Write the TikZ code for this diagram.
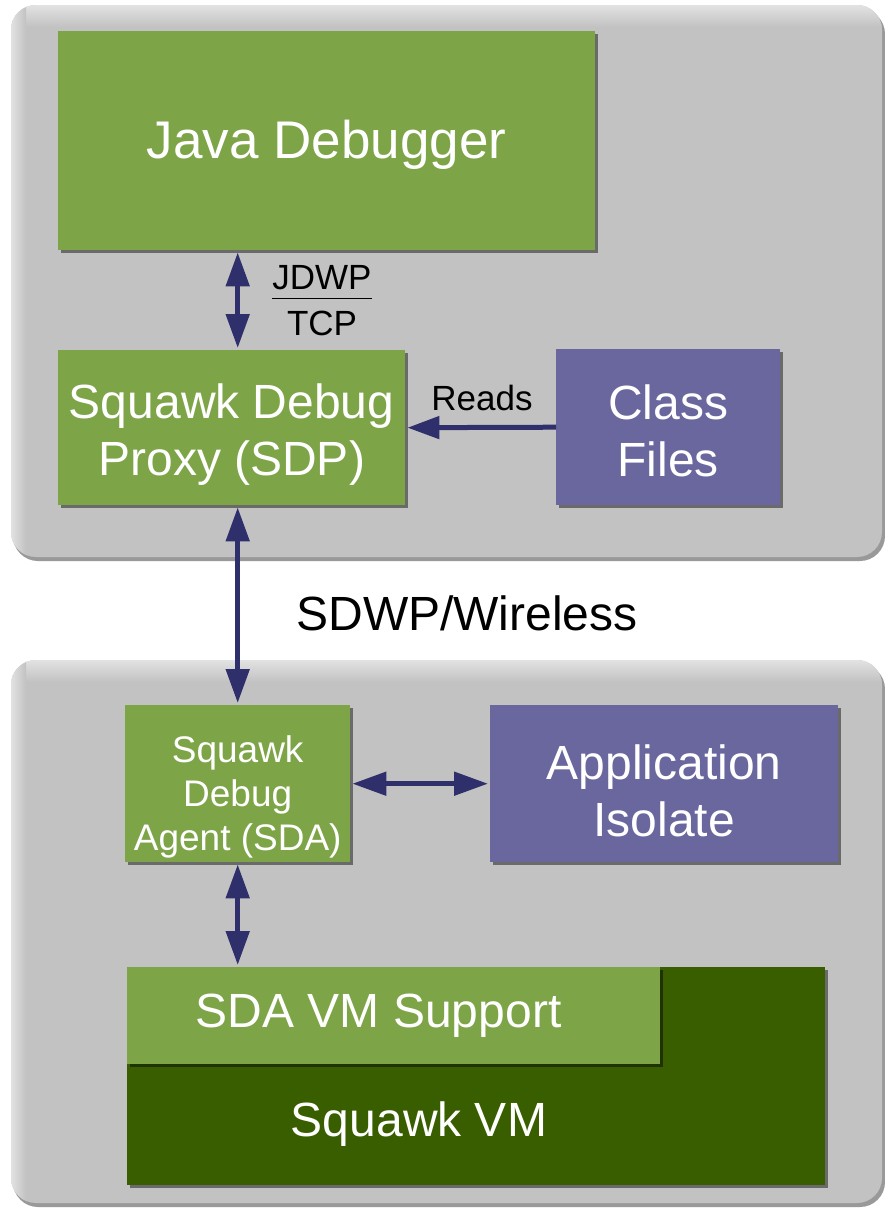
\documentclass[tikz,border=0pt]{standalone}
\usepackage{fontspec}
\setmainfont{Liberation Sans}
\usetikzlibrary{arrows.meta, positioning, shadows}
\definecolor{boxgreen}{HTML}{7EA448}
\definecolor{boxpurple}{HTML}{6A679F}
\definecolor{vmgreen}{HTML}{385E00}
\definecolor{panelgray}{HTML}{C2C2C2}
\definecolor{panellight}{HTML}{E2E2E2}
\definecolor{arrownavy}{HTML}{2E2F6B}
\newcommand{\hugetxt}{\fontsize{53}{60}\selectfont}
\newcommand{\bigtxt}{\fontsize{48}{57}\selectfont}
\newcommand{\midtxt}{\fontsize{37}{44}\selectfont}
\newcommand{\smalltxt}{\fontsize{35}{41}\selectfont}
% taller first line, so that the text sits lower in its box
\newcommand{\dropby}[1]{\rule{0pt}{\dimexpr\fontcharht\font`k+#1\relax}}

\begin{document}
\begin{tikzpicture}[x=1pt, y=-1pt,
    box/.style={anchor=north west, inner sep=0pt, text=white, align=center,
        drop shadow={shadow xshift=3pt, shadow yshift=-3pt, opacity=0.45, fill=black}},
    dblarrow/.style={arrownavy, line width=5pt, {Triangle[length=34pt, width=23pt]}-{Triangle[length=34pt, width=23pt]}, shorten <=2pt, shorten >=2pt},
    onearrow/.style={arrownavy, line width=5pt, -{Triangle[length=32pt, width=22pt]}, shorten >=2pt}]
    \useasboundingbox (0,0) rectangle (885,1210);

    % Panels
    \foreach \ya/\yb in {5/557, 660/1203} {
        \fill[black!40, rounded corners=25] (13,\ya+4) rectangle (885,\yb+4);
        \fill[panelgray, rounded corners=25] (11,\ya) rectangle (882,\yb);
        \begin{scope}
            \clip[rounded corners=25] (11,\ya) rectangle (882,\yb);
            \shade[top color=panellight, bottom color=panelgray] (11,\ya) rectangle (882,\ya+22);
            \shade[left color=panellight, right color=panelgray] (11,\ya) rectangle (26,\yb);
        \end{scope}
    }

    % Host side
    \node[box, fill=boxgreen, minimum width=537, minimum height=219, font=\hugetxt] (jdb) at (58,31) {\dropby{10pt}Java Debugger};
    \node[box, fill=boxgreen, minimum width=347, minimum height=155, font=\bigtxt] (sdp) at (58,350) {\dropby{16pt}Squawk Debug\\Proxy (SDP)};
    \node[box, fill=boxpurple, minimum width=224, minimum height=156, font=\bigtxt] (cls) at (556,349) {\dropby{10pt}Class\\Files};

    % Device side
    \node[box, fill=boxgreen, minimum width=225, minimum height=157, font=\midtxt] (sda) at (125,705) {\dropby{28pt}Squawk\\Debug\\Agent (SDA)};
    \node[box, fill=boxpurple, minimum width=348, minimum height=157, font=\bigtxt] (app) at (490,705) {\dropby{16pt}Application\\Isolate};
    \node[box, fill=vmgreen, minimum width=698, minimum height=218] (vm) at (127,967) {};
    \node[box, fill=boxgreen, minimum width=533, minimum height=97, font=\bigtxt] (vms) at (127,967) {SDA VM Support\hspace*{30pt}};
    \node[font=\bigtxt, text=white] (vmlbl) at (419,1124) {Squawk VM};

    % Labels
    \node[font=\smalltxt, inner sep=0pt] (jdwp) at (322,304) {\setlength{\arrayrulewidth}{1.5pt}\begin{tabular}{@{}c@{}}JDWP\\[-4pt]\hline\rule{0pt}{36pt}TCP\end{tabular}};
    \node[font=\smalltxt] (reads) at (482,398) {Reads};
    \node[font=\bigtxt] (sdwp) at (467,613) {SDWP/Wireless};

    % Arrows
    \draw[dblarrow] (jdb.south -| sda.north) -- (sdp.north -| sda.north);
    \draw[onearrow] (cls.west) -- (sdp.east);
    \draw[dblarrow] (sdp.south -| sda.north) -- (sda.north);
    \draw[dblarrow] (sda.east) -- (app.west);
    \draw[dblarrow] (sda.south) -- (vms.north -| sda.south);
\end{tikzpicture}
\end{document}
